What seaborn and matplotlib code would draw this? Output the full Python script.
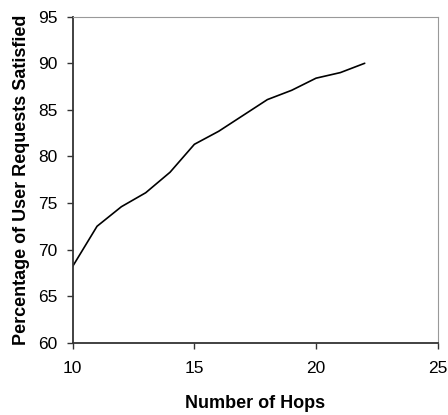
import matplotlib
matplotlib.use("Agg")
import matplotlib.pyplot as plt
import seaborn as sns
import pandas as pd

hops = [10, 11, 12, 13, 14, 15, 16, 17, 18, 19, 20, 21, 22]
satisfied = [68.2, 72.5, 74.6, 76.1, 78.3, 81.3, 82.7, 84.4, 86.1, 87.1, 88.4, 89.0, 90.0]

df = pd.DataFrame({"hops": hops, "satisfied": satisfied})

sns.set_style("white")
plt.rcParams["font.family"] = ["Liberation Sans", "DejaVu Sans"]

fig = plt.figure(figsize=(4.48, 4.15), dpi=100)
ax = fig.add_axes([72.7 / 448, 1 - 342.7 / 415, 365 / 448, 326 / 415])

sns.lineplot(data=df, x="hops", y="satisfied", ax=ax, color="black", linewidth=1.2)

ax.set_xlim(10, 25)
ax.set_ylim(60, 95)
ax.set_xticks([10, 15, 20, 25])
ax.set_yticks(range(60, 96, 5))
ax.tick_params(axis="both", direction="out", length=4, width=1, color="#333333",
               labelsize=12.5, labelcolor="black", left=True, bottom=True)
ax.tick_params(axis="y", pad=7)
ax.tick_params(axis="x", pad=9)

for side in ["left", "bottom"]:
    ax.spines[side].set_color("#333333")
    ax.spines[side].set_linewidth(1.3)
for side in ["top", "right"]:
    ax.spines[side].set_color("#999999")
    ax.spines[side].set_linewidth(0.8)

ax.set_xlabel("Number of Hops", fontsize=13, fontweight="bold", labelpad=14, color="black")
ax.set_ylabel("Percentage of User Requests Satisfied", fontsize=13, fontweight="bold",
              labelpad=6, color="black")

fig.savefig("out.png", dpi=100)
